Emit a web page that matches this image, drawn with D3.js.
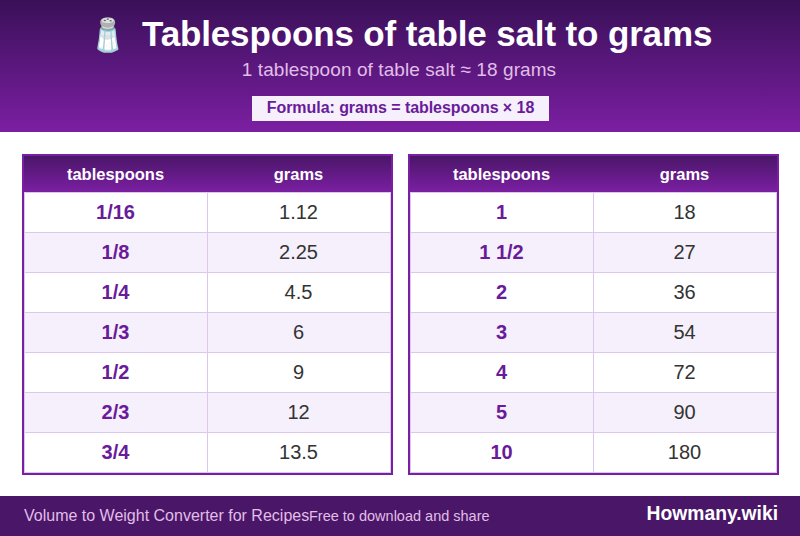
<!DOCTYPE html>
<html>
<head>
<meta charset="utf-8">
<script src="https://cdn.jsdelivr.net/npm/d3@7"></script>
<style>
    html, body { margin: 0; padding: 0; background: #fff; }
    #chart { position: relative; width: 800px; height: 536px; overflow: hidden;
             font-family: "Liberation Sans", Arial, sans-serif; }
    #chart div { position: absolute; white-space: nowrap; box-sizing: border-box; }
</style>
</head>
<body>
<div id="chart"></div>
<script>
const columns = ['tablespoons', 'grams'];
const leftTablespoons = ['1/16', '1/8', '1/4', '1/3', '1/2', '2/3', '3/4'];
const leftGrams = ['1.12', '2.25', '4.5', '6', '9', '12', '13.5'];
const rightTablespoons = ['1', '1 1/2', '2', '3', '4', '5', '10'];
const rightGrams = ['18', '27', '36', '54', '72', '90', '180'];

const chart = d3.select('#chart');
const lineColor = '#dcc8ec';

// absolutely placed box, with its text centred on the line height
const box = (parent, x, y, w, h, style = {}, text = '') => {
    const d = parent.append('div')
        .style('left', `${x}px`).style('top', `${y}px`)
        .style('width', `${w}px`).style('height', `${h}px`)
        .style('line-height', `${h}px`)
        .text(text);
    Object.entries(style).forEach(([k, v]) => d.style(k, v));
    return d;
};

// page header
box(chart, 0, 0, 800, 132, { background: 'linear-gradient(180deg, #3a1058, #7b1fa2)' });

box(chart, 78, 13, 60, 44, { 'text-align': 'center', 'font-size': '32px' }, '🧂');

box(chart, 142, 12, 600, 44, {
    'font-size': '35px', 'font-weight': 'bold', color: '#fff', 'letter-spacing': '-0.14px'
}, 'Tablespoons of table salt to grams');

box(chart, 0, 58, 798, 24, {
    'text-align': 'center', 'font-size': '19px', color: '#e1bee7', 'letter-spacing': '0.08px'
}, '1 tablespoon of table salt ≈ 18 grams');

box(chart, 252, 96, 297, 25, { background: '#f5f0fb' });
box(chart, 252, 95, 297, 25, {
    'text-align': 'center', 'font-size': '16px', 'font-weight': 'bold',
    color: '#6a1b9a', 'letter-spacing': '-0.06px'
}, 'Formula: grams = tablespoons × 18');

// one table, drawn at its own left edge
const drawTable = (left, tablespoons, grams) => {
    const tableWidth = 371;
    const tableHeight = 321;
    const g = box(chart, left, 154, tableWidth, tableHeight);

    const x = d3.scaleBand().domain(columns).range([2, tableWidth - 3]);
    const y = d3.scaleBand().domain(tablespoons).range([38, tableHeight - 3]);

    box(g, 2, 2, tableWidth - 4, 36, { background: 'linear-gradient(180deg, #4a1668, #7b1fa2)' });

    columns.forEach(c => {
        box(g, x(c), 2, x.bandwidth(), 36, {
            'text-align': 'center', 'font-size': '16.5px', 'font-weight': 'bold', color: '#fff'
        }, c);
    });

    tablespoons.forEach((d, i) => {
        box(g, 2, y(d), tableWidth - 4, y.bandwidth() + 1, {
            background: i % 2 ? '#f5f0fb' : '#fff',
            'border-top': `1px solid ${lineColor}`,
            'border-bottom': `1px solid ${lineColor}`
        });
        box(g, x('grams'), y(d), 1, y.bandwidth() + 1, { background: lineColor });
        box(g, x('tablespoons'), y(d), x.bandwidth(), y.bandwidth(), {
            'text-align': 'center', 'font-size': '20px', 'font-weight': 'bold', color: '#6a1b9a'
        }, d);
        box(g, x('grams'), y(d), x.bandwidth(), y.bandwidth(), {
            'text-align': 'center', 'font-size': '20px', color: '#333'
        }, grams[i]);
    });

    // side cell edges just inside the table frame
    box(g, 2, 38, 1, 281, { background: lineColor });
    box(g, tableWidth - 3, 38, 1, 281, { background: lineColor });

    box(g, 0, 0, tableWidth, tableHeight, { border: '2px solid #7b1fa2' });
};

drawTable(22, leftTablespoons, leftGrams);
drawTable(408, rightTablespoons, rightGrams);

// footer
box(chart, 0, 496, 800, 40, { background: '#4a1668' });
box(chart, 24, 496, 285, 40, { 'font-size': '16px', color: '#e1bee7' },
    'Volume to Weight Converter for Recipes');
box(chart, 309, 496, 200, 40, { 'font-size': '14.5px', color: '#e1bee7' },
    'Free to download and share');
box(chart, 578, 496, 200, 36, {
    'text-align': 'right', 'font-size': '19.3px', 'font-weight': 'bold', color: '#fff'
}, 'Howmany.wiki');
</script>
</body>
</html>
